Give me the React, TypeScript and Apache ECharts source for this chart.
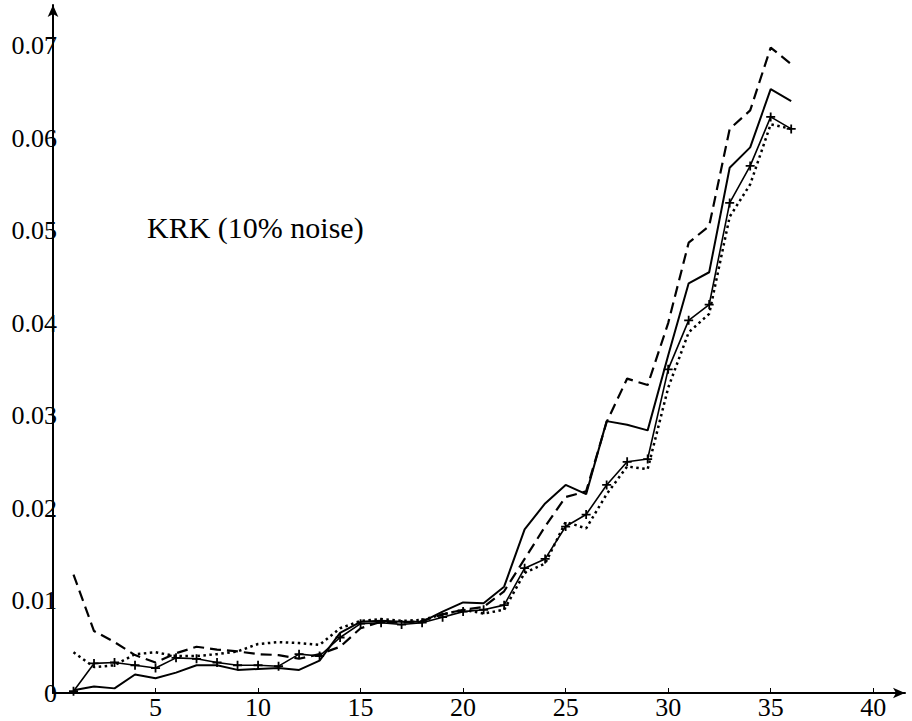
import React, { useEffect, useRef } from "react";
import * as echarts from "echarts";

const xValues = [1, 2, 3, 4, 5, 6, 7, 8, 9, 10, 11, 12, 13, 14, 15, 16, 17, 18, 19, 20, 21, 22, 23, 24, 25, 26, 27, 28, 29, 30, 31, 32, 33, 34, 35, 36];

const solidValues = [0.0003, 0.0007, 0.0005, 0.002, 0.0016, 0.0022, 0.003, 0.003, 0.0025, 0.0026, 0.0027, 0.0025, 0.0035, 0.0065, 0.0077, 0.0078, 0.0077, 0.0077, 0.0088, 0.0098, 0.0097, 0.0115, 0.0177, 0.0205, 0.0225, 0.0215, 0.0294, 0.029, 0.0284, 0.0365, 0.0443, 0.0455, 0.0568, 0.059, 0.0653, 0.064];

const dashedValues = [0.0128, 0.0067, 0.0055, 0.0041, 0.0033, 0.0043, 0.005, 0.0047, 0.0045, 0.0042, 0.0041, 0.0037, 0.0042, 0.005, 0.007, 0.0077, 0.0076, 0.0078, 0.0085, 0.009, 0.0093, 0.011, 0.0145, 0.018, 0.0212, 0.0218, 0.0293, 0.034, 0.0333, 0.04, 0.0487, 0.0505, 0.061, 0.063, 0.0698, 0.068];

const dottedValues = [0.0044, 0.0028, 0.003, 0.0042, 0.0044, 0.004, 0.004, 0.0042, 0.0045, 0.0053, 0.0055, 0.0054, 0.0052, 0.007, 0.0078, 0.008, 0.0078, 0.0079, 0.0085, 0.009, 0.0086, 0.009, 0.013, 0.014, 0.0185, 0.0178, 0.0215, 0.0245, 0.0242, 0.033, 0.039, 0.041, 0.0515, 0.055, 0.0615, 0.061];

const crossValues = [0.0002, 0.0032, 0.0033, 0.003, 0.0027, 0.0038, 0.0037, 0.0033, 0.003, 0.003, 0.0029, 0.0042, 0.004, 0.006, 0.0075, 0.0076, 0.0074, 0.0076, 0.0082, 0.0088, 0.009, 0.0095, 0.0135, 0.0145, 0.018, 0.0193, 0.0225, 0.025, 0.0253, 0.035, 0.0403, 0.042, 0.053, 0.057, 0.0623, 0.061];

const xTickLabels = ["5", "10", "15", "20", "25", "30", "35", "40"];
const yTickLabels = ["0", "0.01", "0.02", "0.03", "0.04", "0.05", "0.06", "0.07"];
const annotation = "KRK (10% noise)";

const FONT = "'Liberation Serif', 'DejaVu Serif', serif";

function pairs(vals: number[]) {
  return xValues.map((x, i) => [x, vals[i]]);
}

export default function App() {
  const ref = useRef<HTMLDivElement>(null);
  useEffect(() => {
    if (!ref.current) return;
    const chart = echarts.init(ref.current, null, { renderer: "svg" });
    const axisLineStyle = { color: "#000", width: 2 };
    chart.setOption({
      animation: false,
      backgroundColor: "#fff",
      grid: { left: 53, right: 7, top: 5, bottom: 28, containLabel: false },
      xAxis: {
        type: "value",
        min: 0,
        max: 41.55,
        interval: 5,
        axisLine: { show: true, symbol: ["none", "arrow"], symbolSize: [8, 12], lineStyle: axisLineStyle },
        axisTick: { show: true, inside: true, length: 5, lineStyle: { color: "#000", width: 1 } },
        axisLabel: {
          color: "#000",
          fontFamily: FONT,
          fontSize: 26,
          margin: 1,
          showMaxLabel: false,
          formatter: (v: number) => {
            const idx = xTickLabels.indexOf(String(v));
            return idx >= 0 ? xTickLabels[idx] : "";
          },
        },
        splitLine: { show: false },
      },
      yAxis: {
        type: "value",
        min: 0,
        max: 0.0744,
        interval: 0.01,
        axisLine: { show: true, symbol: ["none", "arrow"], symbolSize: [8, 12], lineStyle: axisLineStyle },
        axisTick: { show: false },
        axisLabel: {
          color: "#000",
          fontFamily: FONT,
          fontSize: 26,
          margin: -4,
          showMaxLabel: false,
          formatter: (v: number) => {
            const k = Math.round(v * 100);
            if (Math.abs(v * 100 - k) > 1e-6) return "";
            return yTickLabels[k] ?? "";
          },
        },
        splitLine: { show: false },
      },
      graphic: [
        {
          type: "text",
          left: 147,
          top: 212,
          style: { text: annotation, font: `30px ${FONT}`, fill: "#000" },
        },
      ],
      series: [
        {
          type: "line",
          data: pairs(solidValues),
          showSymbol: false,
          symbol: "none",
          lineStyle: { color: "#000", width: 2, type: "solid" },
        },
        {
          type: "line",
          data: pairs(dashedValues),
          showSymbol: false,
          symbol: "none",
          lineStyle: { color: "#000", width: 2.2, type: [11, 6] },
        },
        {
          type: "line",
          data: pairs(dottedValues),
          showSymbol: false,
          symbol: "none",
          lineStyle: { color: "#000", width: 2.5, type: [2.5, 3.5] },
        },
        {
          type: "line",
          data: pairs(crossValues),
          symbol: "path://M4,0 H6 V4 H10 V6 H6 V10 H4 V6 H0 V4 H4 Z",
          symbolSize: 9,
          showSymbol: true,
          itemStyle: { color: "#000" },
          lineStyle: { color: "#000", width: 1.6, type: "solid" },
        },
      ],
    });
    return () => chart.dispose();
  }, []);
  return (
    <div
      ref={ref}
      style={{ position: "fixed", left: 0, top: 0, width: 912, height: 721, background: "#fff" }}
    />
  );
}
